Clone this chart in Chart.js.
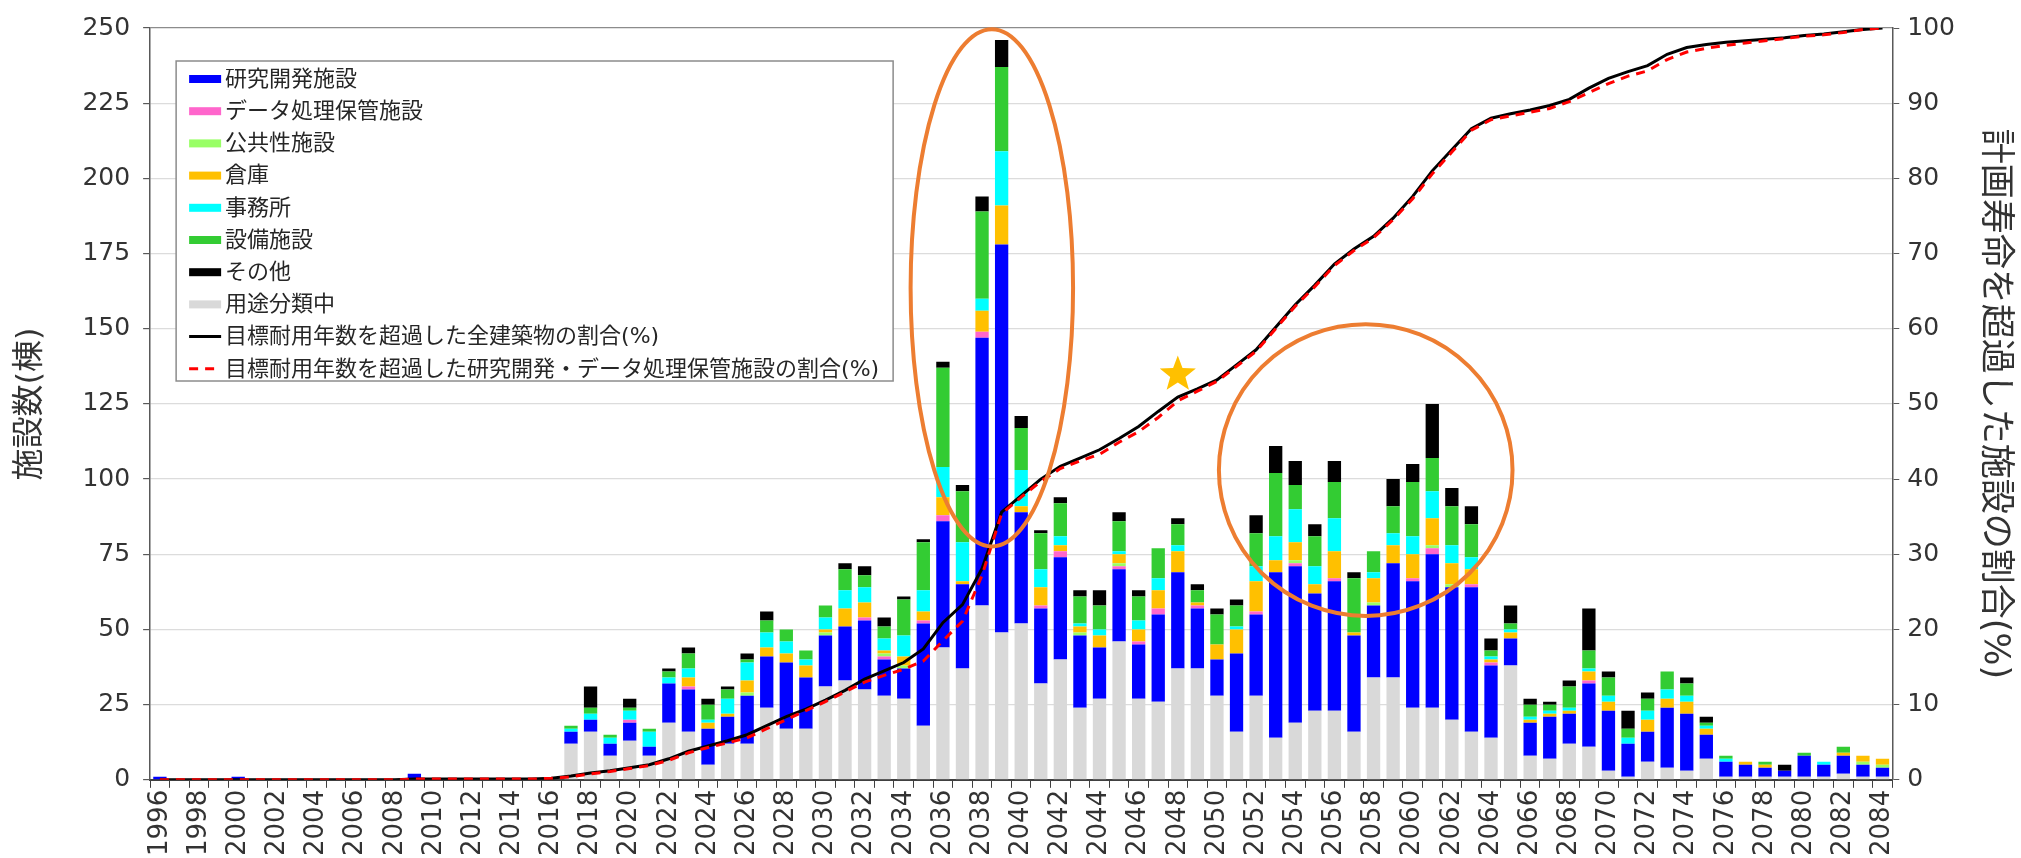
<!DOCTYPE html>
<html lang="ja">
<head>
<meta charset="utf-8">
<title>施設数と目標耐用年数超過割合</title>
<script src="https://cdn.jsdelivr.net/npm/chart.js@4.4.1/dist/chart.umd.min.js"></script>
<style>
  html, body { margin: 0; padding: 0; background: #fff; }
  #wrap { position: relative; width: 2021px; height: 858px; }
</style>
</head>
<body>
<div id="wrap"><canvas id="chart"></canvas></div>
<script>
// 年度（カテゴリ）
const years = [
  1996, 1997, 1998, 1999, 2000, 2001, 2002, 2003, 2004, 2005,
  2006, 2007, 2008, 2009, 2010, 2011, 2012, 2013, 2014, 2015,
  2016, 2017, 2018, 2019, 2020, 2021, 2022, 2023, 2024, 2025,
  2026, 2027, 2028, 2029, 2030, 2031, 2032, 2033, 2034, 2035,
  2036, 2037, 2038, 2039, 2040, 2041, 2042, 2043, 2044, 2045,
  2046, 2047, 2048, 2049, 2050, 2051, 2052, 2053, 2054, 2055,
  2056, 2057, 2058, 2059, 2060, 2061, 2062, 2063, 2064, 2065,
  2066, 2067, 2068, 2069, 2070, 2071, 2072, 2073, 2074, 2075,
  2076, 2077, 2078, 2079, 2080, 2081, 2082, 2083, 2084
];

const zeros21 = [0,0,0,0,0,0,0,0,0,0, 0,0,0,0,0,0,0,0,0,0, 0];

// 用途分類中
const unclassified = zeros21.concat([
  12,16,8,13,8,19,16,5,12,12,
  24,17,17,31,33,30,28,27,18,44,
  37,58,49,52,32,40,24,27,46,27,
  26,37,37,28,16,28,14,19,23,23,
  16,34,34,24,24,20,16,14,38,8,
  7,12,11,3,1,6,4,3,7,1,
  1,1,1,1,1,2,1,1
]);
// 研究開発施設
const research = [1,0,0,0,1,0,0,0,0,0, 0,0,0,2,0,0,0,0,0,0, 0].concat([
  4,4,4,6,3,13,14,12,9,16,
  17,22,17,17,18,23,12,10,34,42,
  28,89,129,37,25,34,24,17,24,18,
  29,32,20,12,26,27,55,52,39,43,
  32,24,38,42,51,44,48,24,9,11,
  14,10,21,20,11,10,20,19,8,5,
  4,3,2,7,4,6,4,3
]);
// データ処理保管施設
const dataStorage = zeros21.concat([
  0,0,0,1,0,0,1,0,0,0,
  0,0,0,0,0,1,1,0,1,2,
  0,2,0,0,1,2,0,0,1,1,
  2,0,1,0,0,1,0,1,0,1,
  0,0,0,1,2,0,1,1,0,0,
  0,0,1,0,0,0,0,0,0,0,
  0,0,0,0,0,0,0,0
]);
// 公共性施設
const publicUse = zeros21.concat([
  0,0,0,0,0,0,0,0,0,1,
  0,0,0,1,0,0,1,1,0,0,
  0,0,0,0,0,0,1,0,1,0,
  0,0,0,0,0,0,0,1,0,0,
  0,1,0,0,1,1,0,0,0,0,
  0,0,0,0,0,0,0,0,0,0,
  0,0,0,0,0,0,1,1
]);
// 倉庫
const warehouse = zeros21.concat([
  0,0,0,0,0,0,3,2,1,4,
  3,3,4,1,6,5,1,3,3,6,
  1,7,13,2,6,2,2,4,3,4,
  6,7,1,5,8,10,4,6,3,9,
  1,8,6,8,9,7,5,1,2,1,
  1,1,3,3,0,4,3,4,2,0,
  1,1,0,0,0,1,2,2
]);
// 事務所
const office = zeros21.concat([
  1,2,2,3,5,2,3,1,5,6,
  5,4,2,4,6,5,4,7,7,10,
  13,4,18,12,6,3,1,2,1,3,
  4,2,0,0,1,5,8,11,6,11,
  0,2,4,6,9,6,4,1,1,1,
  1,1,1,2,2,3,3,2,1,1,
  0,0,0,0,1,0,0,0
]);
// 設備施設
const equipment = zeros21.concat([
  1,2,1,1,1,2,5,5,3,1,
  4,4,3,4,7,4,4,12,16,33,
  17,29,28,14,12,11,9,8,10,8,
  10,7,4,10,7,11,21,8,10,12,
  18,7,9,18,11,13,11,2,2,4,
  2,7,6,6,3,4,6,4,1,1,
  0,1,0,1,0,2,0,0
]);
// その他
const others = zeros21.concat([
  0,7,0,3,0,1,2,2,1,2,
  3,0,0,0,2,3,3,1,1,2,
  2,5,9,4,1,2,2,5,3,2,
  0,2,2,2,2,6,9,8,4,7,
  2,0,9,6,18,6,6,4,6,2,
  1,2,14,2,6,2,0,2,2,0,
  0,0,2,0,0,0,0,0
]);

// 目標耐用年数を超過した全建築物の割合(%)
const ratioAll = [0,0,0,0,0,0,0,0,0,0, 0,0,0,0.1,0.1,0.1,0.1,0.1,0.1,0.1, 0.2].concat([
  0.5,0.9,1.2,1.6,2.0,2.8,3.8,4.5,5.2,6.0,
  7.2,8.4,9.4,10.6,11.9,13.4,14.5,15.6,17.4,20.9,
  23.3,28.1,35.6,37.8,40.0,41.7,42.8,43.9,45.4,47.0,
  49.0,50.9,52.0,53.2,55.2,57.2,60.2,63.2,65.8,68.6,
  70.6,72.3,74.7,77.6,81.0,83.8,86.6,88.0,88.6,89.1,
  89.7,90.5,92.0,93.3,94.2,95.0,96.5,97.4,97.8,98.1,
  98.3,98.5,98.7,99.0,99.2,99.5,99.8,100
]);
// 目標耐用年数を超過した研究開発・データ処理保管施設の割合(%)
const ratioResearch = [0,0,0,0,0,0,0,0,0,0, 0,0,0,0.1,0.1,0.1,0.1,0.1,0.1,0.1, 0.2].concat([
  0.4,0.8,1.1,1.5,1.9,2.6,3.6,4.3,4.9,5.6,
  6.8,8.0,9.2,10.4,11.7,13.0,13.9,14.7,15.8,18.5,
  21.1,27.2,35.4,37.6,39.7,41.4,42.4,43.3,44.9,46.3,
  48.2,50.4,51.7,53.0,55.0,57.0,60.0,63.0,65.6,68.4,
  70.4,72.1,74.5,77.3,80.6,83.5,86.4,87.8,88.3,88.8,
  89.3,90.2,91.4,92.6,93.6,94.3,95.8,96.8,97.3,97.7,
  98.0,98.3,98.6,98.9,99.1,99.4,99.8,100
]);

const FONT = '"DejaVu Sans", "Noto Sans CJK JP", sans-serif';
Chart.defaults.font.family = FONT;
Chart.defaults.color = '#333';

// 強調の楕円と星（データ座標: x=カテゴリ番号, y=左軸の値）
const highlightEllipses = [
  { cx: 42.5, cy: 163.6, rx: 4.15, ry: 86 },
  { cx: 61.6, cy: 103, rx: 7.5, ry: 48.5 }
];
const starMark = { x: 52, y: 134.8 };

function barSet(label, data, color) {
  return {
    type: 'bar', label: label, data: data, backgroundColor: color,
    yAxisID: 'y', stack: 's', order: 2, borderWidth: 0,
    barPercentage: 0.68, categoryPercentage: 1.0
  };
}

const dsUnclassified = barSet('用途分類中', unclassified, '#D9D9D9');
const dsResearch = barSet('研究開発施設', research, '#0000FF');
const dsData = barSet('データ処理保管施設', dataStorage, '#FF66CC');
const dsPublic = barSet('公共性施設', publicUse, '#99FF66');
const dsWarehouse = barSet('倉庫', warehouse, '#FFC000');
const dsOffice = barSet('事務所', office, '#00FFFF');
const dsEquip = barSet('設備施設', equipment, '#33CC33');
const dsOther = barSet('その他', others, '#000000');

const dsLineAll = {
  type: 'line', label: '目標耐用年数を超過した全建築物の割合(%)', data: ratioAll,
  yAxisID: 'y2', borderColor: '#000000', borderWidth: 3, pointRadius: 0,
  tension: 0, order: 1, fill: false
};
const dsLineResearch = {
  type: 'line', label: '目標耐用年数を超過した研究開発・データ処理保管施設の割合(%)', data: ratioResearch,
  yAxisID: 'y2', borderColor: '#FF0000', borderWidth: 3, borderDash: [9, 7], pointRadius: 0,
  tension: 0, order: 0, fill: false
};

const legendOrder = [dsResearch, dsData, dsPublic, dsWarehouse, dsOffice, dsEquip, dsOther, dsUnclassified, dsLineAll, dsLineResearch];

// 凡例（プロット内の白い枠）
const boxLegend = {
  id: 'boxLegend',
  afterDatasetsDraw(chart) {
    const { ctx, chartArea } = chart;
    const left = chartArea.left + 26;
    const top = chartArea.top + 33;
    const w = 717, h = 320;
    ctx.save();
    ctx.fillStyle = '#fff';
    ctx.fillRect(left, top, w, h);
    ctx.strokeStyle = '#8c8c8c';
    ctx.lineWidth = 1.5;
    ctx.strokeRect(left, top, w, h);
    ctx.font = '22px ' + FONT;
    ctx.textBaseline = 'middle';
    legendOrder.forEach((ds, i) => {
      const yc = top + 18 + i * 32.2;
      if (ds.type === 'bar') {
        ctx.fillStyle = ds.backgroundColor;
        ctx.fillRect(left + 13, yc - 4, 32, 8);
      } else {
        ctx.strokeStyle = ds.borderColor;
        ctx.lineWidth = 3;
        ctx.setLineDash(ds.borderDash || []);
        ctx.beginPath();
        ctx.moveTo(left + 13, yc);
        ctx.lineTo(left + 45, yc);
        ctx.stroke();
        ctx.setLineDash([]);
      }
      ctx.fillStyle = '#262626';
      ctx.fillText(ds.label, left + 49, yc + 1);
    });
    ctx.restore();
  }
};

// 楕円と星
const highlights = {
  id: 'highlights',
  afterDraw(chart) {
    const { ctx } = chart;
    const x = chart.scales.x, y = chart.scales.y;
    ctx.save();
    ctx.strokeStyle = '#ED7D31';
    ctx.lineWidth = 4;
    highlightEllipses.forEach(e => {
      const cx = x.getPixelForValue(e.cx);
      const cy = y.getPixelForValue(e.cy);
      const rx = Math.abs(x.getPixelForValue(e.cx + e.rx) - cx);
      const ry = Math.abs(y.getPixelForValue(e.cy + e.ry) - cy);
      ctx.beginPath();
      ctx.ellipse(cx, cy, rx, ry, 0, 0, Math.PI * 2);
      ctx.stroke();
    });
    const sx = x.getPixelForValue(starMark.x);
    const sy = y.getPixelForValue(starMark.y);
    const outer = 19, inner = 8;
    ctx.fillStyle = '#FFC000';
    ctx.beginPath();
    for (let i = 0; i < 10; i++) {
      const r = i % 2 === 0 ? outer : inner;
      const a = -Math.PI / 2 + i * Math.PI / 5;
      const px = sx + r * Math.cos(a), py = sy + r * Math.sin(a);
      if (i === 0) ctx.moveTo(px, py); else ctx.lineTo(px, py);
    }
    ctx.closePath();
    ctx.fill();
    ctx.restore();
  }
};

new Chart(document.getElementById('chart'), {
  type: 'bar',
  data: {
    labels: years,
    datasets: [dsUnclassified, dsResearch, dsData, dsPublic, dsWarehouse, dsOffice, dsEquip, dsOther, dsLineAll, dsLineResearch]
  },
  options: {
    responsive: true,
    maintainAspectRatio: false,
    devicePixelRatio: 1,
    animation: false,
    layout: { padding: { top: 22, left: 0, right: 0, bottom: 0 } },
    plugins: {
      legend: { display: false },
      tooltip: { enabled: false }
    },
    scales: {
      x: {
        stacked: true,
        grid: { display: true, drawOnChartArea: false, offset: true, tickLength: 8, tickColor: '#404040' },
        border: { display: true, color: '#404040', width: 2 },
        ticks: {
          autoSkip: false, maxRotation: 90, minRotation: 90, padding: 2,
          font: { size: 26 }, color: '#333',
          callback: (v, i) => (i % 2 === 0 ? String(years[i]) : '')
        }
      },
      y: {
        stacked: true,
        min: 0, max: 250,
        ticks: { stepSize: 25, padding: 13, font: { size: 25 }, color: '#333' },
        grid: {
          color: c => (c.tick && c.tick.value === 250 ? '#8c8c8c' : '#dcdcdc'),
          lineWidth: 1.2, tickLength: 7, tickColor: '#595959'
        },
        border: { color: '#595959', width: 1.5 },
        title: {
          display: true, text: '施設数(棟)', color: '#333',
          font: { size: 32 }, padding: { top: 11, bottom: 20 }
        }
      },
      y2: {
        position: 'right',
        min: 0, max: 100,
        ticks: { stepSize: 10, padding: 8, font: { size: 25 }, color: '#333' },
        grid: { drawOnChartArea: false, tickLength: 7, tickColor: '#595959' },
        border: { color: '#595959', width: 1.5 },
        title: {
          display: true, text: '計画寿命を超過した施設の割合(%)', color: '#333',
          font: { size: 35 }, padding: { top: 6, bottom: 10 }
        }
      }
    }
  },
  plugins: [boxLegend, highlights]
});
</script>
</body>
</html>
